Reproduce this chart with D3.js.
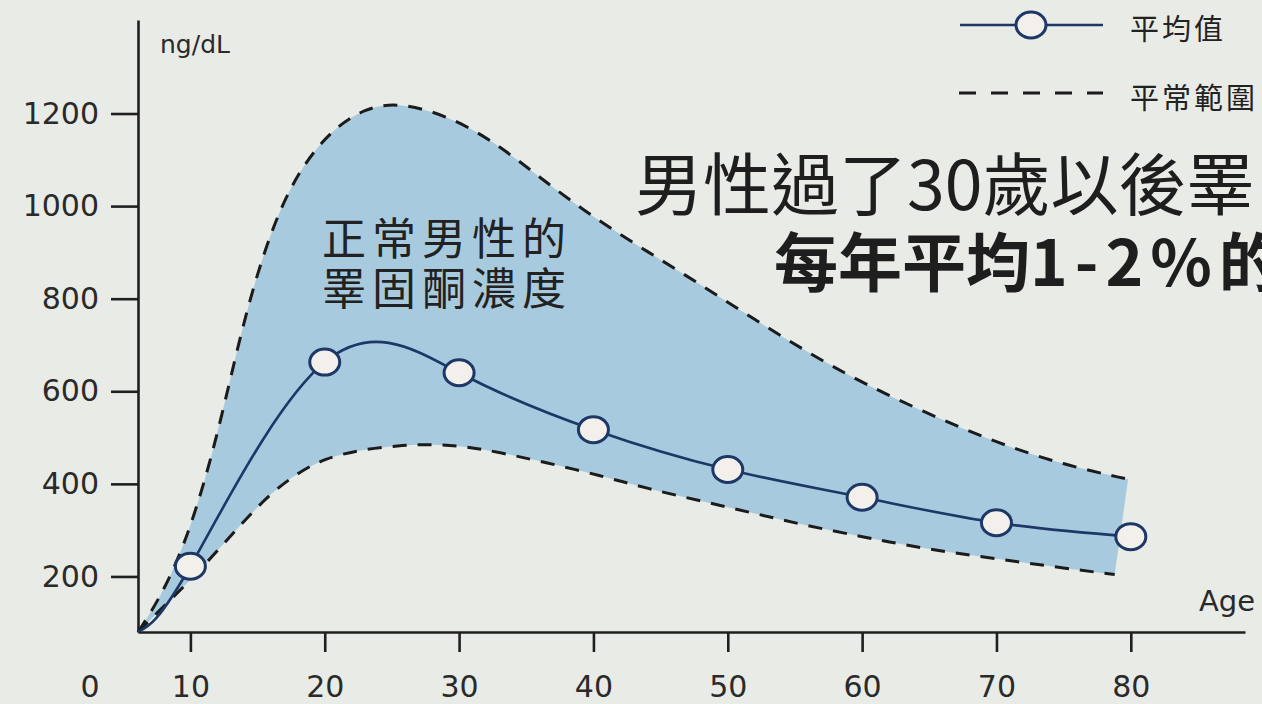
<!DOCTYPE html>
<html>
<head>
<meta charset="utf-8">
<script src="https://cdn.jsdelivr.net/npm/d3@7"></script>
<style>
  html, body { margin: 0; padding: 0; background: #e9ebe7; }
  svg { display: block; }
  .tick text { font-family: "DejaVu Sans", sans-serif; fill: #2a2a2a; }
</style>
</head>
<body>
<svg id="chart" width="1262" height="704"></svg>
<script>
// Mean testosterone by age (ng/dL)
const ages = [10, 20, 30, 40, 50, 60, 70, 80];
const meanValues = [222, 663, 640, 517, 431, 371, 316, 286];

// Where the curves start (axis corner)
const startAge = 6.1;
const startValue = 80;

// Upper limit of the normal range
const upperAges = [6.1, 8, 10, 12, 14, 16, 18, 20.5, 23, 25.5, 29, 32.5, 36, 40, 44, 48, 52, 56, 60, 65, 70, 75, 79.8];
const upperValues = [80, 165, 300, 500, 760, 950, 1075, 1165, 1212, 1224, 1197, 1142, 1062, 975, 902, 830, 755, 683, 618, 550, 489, 441, 410];

// Lower limit of the normal range
const lowerAges = [6.1, 8, 10, 12, 14, 16, 18, 20, 22.5, 25.5, 28, 30.5, 33, 36.5, 40.5, 44, 48, 52, 56, 60, 63, 66.5, 70.3, 74, 78.8];
const lowerValues = [80, 135, 192, 255, 320, 380, 424, 455, 473, 483, 486, 481, 468, 446, 418, 390, 363, 336, 309, 286, 269, 252, 237, 222, 204];

// Axis ticks
const xTickValues = [10, 20, 30, 40, 50, 60, 70, 80];
const yTickValues = [200, 400, 600, 800, 1000, 1200];
const originLabel = "0";

// Text
const unitLabel = "ng/dL";
const ageLabel = "Age";
const legendMean = "平均值";
const legendRange = "平常範圍";
const bandLabel = ["正常男性的", "睪固酮濃度"];
const headline1 = "男性過了30歲以後睪";
const headline2 = ["每年平均", "1-2%", "的"];

const navy = "#1d3767";
const ink = "#1f1f1f";
const bandFill = "#a8cadf";
const cjk = "'Noto Sans CJK TC', 'Noto Sans CJK SC', sans-serif";

const svg = d3.select("#chart");

const x = d3.scaleLinear().domain([startAge, 88.5]).range([138, 1245]);
const y = d3.scaleLinear().domain([startValue, 1402]).range([632, 20]);

const upperPts = upperAges.map((a, i) => [a, upperValues[i]]);
const lowerPts = lowerAges.map((a, i) => [a, lowerValues[i]]);

const smooth = d3.line()
  .x(d => x(d[0]))
  .y(d => y(d[1]))
  .curve(d3.curveBasis);

// Shaded normal range
const bandPath = smooth(upperPts) + smooth(lowerPts.slice().reverse()).replace(/^M/, "L") + "Z";
svg.append("path")
  .attr("d", bandPath)
  .attr("fill", bandFill)
  .attr("stroke", "none");

// Dashed limits
[upperPts, lowerPts].forEach(pts => {
  svg.append("path")
    .attr("d", smooth(pts))
    .attr("fill", "none")
    .attr("stroke", "#1b1b1b")
    .attr("stroke-width", 3)
    .attr("stroke-dasharray", "14,11");
});

// Axes
const yAxis = d3.axisLeft(y)
  .tickValues(yTickValues)
  .tickSize(27)
  .tickSizeOuter(0)
  .tickPadding(12)
  .tickFormat(d3.format("d"));
const gy = svg.append("g").attr("transform", `translate(${x(startAge)},0)`).call(yAxis);

const xAxis = d3.axisBottom(x)
  .tickValues(xTickValues)
  .tickSize(20)
  .tickSizeOuter(0)
  .tickPadding(24)
  .tickFormat(d3.format("d"));
const gx = svg.append("g").attr("transform", `translate(0,${y(startValue)})`).call(xAxis);

[gx, gy].forEach(g => {
  g.select(".domain").attr("stroke", ink).attr("stroke-width", 2.6);
  g.selectAll(".tick line").attr("stroke", ink).attr("stroke-width", 2.6);
  g.selectAll(".tick text").attr("font-size", 30).attr("fill", "#2a2a2a");
});

svg.append("text")
  .attr("x", x(startAge) - 48)
  .attr("y", 697)
  .attr("text-anchor", "middle")
  .attr("font-family", "DejaVu Sans, sans-serif")
  .attr("font-size", 30)
  .attr("fill", "#2a2a2a")
  .text(originLabel);

svg.append("text")
  .attr("x", 160).attr("y", 53)
  .attr("font-family", "DejaVu Sans, sans-serif")
  .attr("font-size", 25)
  .attr("fill", "#2a2a2a")
  .text(unitLabel);

svg.append("text")
  .attr("x", 1199).attr("y", 611)
  .attr("font-family", "DejaVu Sans, sans-serif")
  .attr("font-size", 29)
  .attr("fill", "#2a2a2a")
  .text(ageLabel);

// Mean curve and markers
const meanPts = [[startAge, startValue]].concat(ages.map((a, i) => [a, meanValues[i]]));
svg.append("path")
  .attr("d", d3.line().x(d => x(d[0])).y(d => y(d[1])).curve(d3.curveNatural)(meanPts))
  .attr("fill", "none")
  .attr("stroke", navy)
  .attr("stroke-width", 2.6);

svg.selectAll("ellipse.mark")
  .data(ages.map((a, i) => [a, meanValues[i]]))
  .join("ellipse")
  .attr("class", "mark")
  .attr("cx", d => x(d[0]))
  .attr("cy", d => y(d[1]))
  .attr("rx", 15)
  .attr("ry", 13)
  .attr("fill", "#f3f0ec")
  .attr("stroke", navy)
  .attr("stroke-width", 3);

// Band caption
bandLabel.forEach((t, i) => {
  svg.append("text")
    .attr("x", 322).attr("y", 236 + i * 50)
    .attr("dominant-baseline", "central")
    .attr("font-family", cjk)
    .attr("font-size", 44)
    .attr("letter-spacing", 6)
    .attr("fill", "#222")
    .text(t);
});

// Legend
svg.append("line").attr("x1", 960).attr("x2", 1103).attr("y1", 25).attr("y2", 25)
  .attr("stroke", navy).attr("stroke-width", 2.6);
svg.append("ellipse").attr("cx", 1031).attr("cy", 25).attr("rx", 15).attr("ry", 13)
  .attr("fill", "#f3f0ec").attr("stroke", navy).attr("stroke-width", 3);
svg.append("line").attr("x1", 959).attr("x2", 1103).attr("y1", 93).attr("y2", 93)
  .attr("stroke", "#1b1b1b").attr("stroke-width", 3).attr("stroke-dasharray", "17,15");

[[legendMean, 27], [legendRange, 96]].forEach(([t, cy]) => {
  svg.append("text")
    .attr("x", 1130).attr("y", cy)
    .attr("dominant-baseline", "central")
    .attr("font-family", cjk)
    .attr("font-size", 29)
    .attr("letter-spacing", 3)
    .attr("fill", "#222")
    .text(t);
});

// Headline
svg.append("text")
  .attr("x", 635).attr("y", 180)
  .attr("dominant-baseline", "central")
  .attr("font-family", cjk)
  .attr("font-size", 68)
  .attr("font-weight", 400)
  .attr("fill", "#1e1e1e")
  .text(headline1);

const h2 = svg.append("text")
  .attr("x", 774).attr("y", 258)
  .attr("dominant-baseline", "central")
  .attr("font-family", cjk)
  .attr("font-size", 64)
  .attr("font-weight", 700)
  .attr("fill", "#1e1e1e");
h2.append("tspan").text(headline2[0]);
h2.append("tspan").attr("letter-spacing", 7).text(headline2[1]);
h2.append("tspan").text(headline2[2]);
</script>
</body>
</html>
